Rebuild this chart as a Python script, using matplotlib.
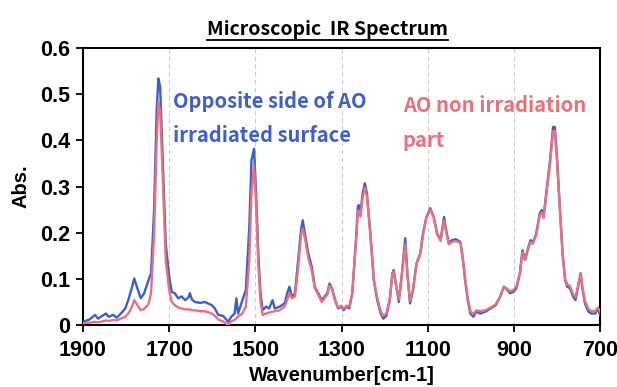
import matplotlib
matplotlib.use("Agg")
import matplotlib.pyplot as plt
from matplotlib.lines import Line2D

# wavenumber [cm-1] and absorbance
wavenumber = [
    1900, 1885, 1872, 1865, 1855, 1847, 1840, 1830, 1822, 1812, 1802, 1795, 1788, 1781,
    1775, 1766, 1758, 1748, 1742, 1735, 1729, 1725, 1721, 1715, 1708, 1700, 1694, 1687,
    1679, 1671, 1663, 1655, 1652, 1647, 1640, 1628, 1617, 1601, 1594, 1586, 1575, 1563,
    1556, 1548, 1544, 1540, 1530, 1522, 1514, 1509, 1503, 1498, 1493, 1488, 1483, 1475,
    1468, 1460, 1455, 1443, 1432, 1426, 1421, 1415, 1408, 1400, 1394, 1390, 1385, 1377,
    1369, 1362, 1354, 1346, 1340, 1333, 1328, 1322, 1315, 1308, 1300, 1295, 1288, 1282,
    1275, 1266, 1262, 1260, 1256, 1251, 1246, 1241, 1233, 1225, 1217, 1209, 1203, 1196,
    1188, 1182, 1179, 1174, 1167, 1160, 1152, 1147, 1141, 1134, 1126, 1117, 1111, 1103,
    1094, 1086, 1078, 1070, 1066, 1062, 1058, 1051, 1043, 1035, 1024, 1018, 1013, 1007,
    1001, 994, 987, 978, 966, 954, 942, 932, 923, 915, 909, 901, 894, 886,
    880, 874, 866, 861, 856, 848, 840, 835, 831, 825, 816, 809, 805, 800,
    793, 787, 781, 776, 770, 762, 757, 751, 745, 741, 735, 727, 720, 711,
    705, 700,
]

abs_opposite = [
    .007, .012, .022, .014, .020, .025, .018, .022, .016, .025, .036, .054, .076, .101,
    .083, .058, .069, .097, .112, .249, .465, .534, .516, .357, .177, .105, .072, .069,
    .058, .062, .054, .060, .069, .055, .050, .048, .050, .043, .036, .022, .020, .007,
    .018, .025, .058, .025, .054, .076, .213, .357, .382, .280, .150, .069, .032, .040,
    .036, .054, .036, .040, .047, .069, .083, .061, .069, .148, .206, .227, .198, .155,
    .126, .083, .069, .054, .061, .069, .090, .079, .054, .036, .040, .032, .040, .036,
    .069, .191, .256, .260, .242, .285, .307, .285, .198, .097, .054, .025, .014, .020,
    .054, .112, .119, .090, .050, .110, .188, .110, .047, .076, .133, .155, .198, .234,
    .253, .234, .198, .184, .210, .234, .210, .177, .184, .186, .180, .141, .097, .054,
    .025, .018, .029, .025, .029, .036, .043, .061, .083, .076, .069, .072, .080, .112,
    .162, .141, .170, .184, .178, .198, .242, .249, .234, .285, .357, .429, .429, .364,
    .249, .155, .097, .083, .080, .061, .054, .083, .112, .080, .047, .029, .025, .025,
    .036, .022,
]

abs_non_irradiated = [
    .004, .005, .007, .006, .008, .010, .009, .011, .010, .014, .018, .025, .036, .054,
    .045, .032, .035, .045, .069, .198, .393, .483, .465, .321, .141, .076, .050, .043,
    .038, .036, .034, .034, .034, .032, .032, .030, .030, .025, .020, .012, .008, .000,
    .008, .011, .015, .018, .025, .040, .141, .285, .346, .260, .130, .050, .022, .025,
    .027, .029, .030, .032, .040, .055, .069, .058, .062, .130, .195, .209, .188, .145,
    .118, .080, .066, .050, .058, .066, .086, .078, .055, .038, .042, .035, .042, .040,
    .070, .185, .245, .248, .235, .275, .298, .278, .195, .098, .058, .030, .020, .025,
    .056, .110, .116, .090, .055, .108, .175, .108, .052, .078, .132, .155, .196, .232,
    .250, .232, .196, .182, .205, .226, .205, .175, .180, .182, .178, .140, .098, .058,
    .030, .024, .032, .030, .032, .038, .045, .062, .083, .078, .073, .076, .084, .113,
    .158, .142, .168, .180, .176, .195, .238, .244, .232, .280, .350, .420, .420, .360,
    .248, .155, .100, .088, .085, .066, .060, .085, .112, .083, .052, .035, .030, .030,
    .038, .030,
]

x_ticks = [1900, 1700, 1500, 1300, 1100, 900, 700]
y_ticks = [0, 0.1, 0.2, 0.3, 0.4, 0.5, 0.6]
y_labels = ["0", "0.1", "0.2", "0.3", "0.4", "0.5", "0.6"]

BLUE = "#3f5fc8"
RED = "#e9707c"
tick_font = {"family": "Liberation Sans", "weight": "bold", "size": 15.5}
label_font = {"family": "Liberation Sans", "weight": "bold", "size": 14.5}
jp_font = ["Noto Sans CJK JP", "DejaVu Sans"]

fig = plt.figure(figsize=(6.17, 3.87), dpi=100)
ax = fig.add_axes([0.1345, 0.160, 0.838, 0.716])

ax.plot(wavenumber, abs_opposite, color=BLUE, lw=1.7, zorder=3)
ax.plot(wavenumber, abs_non_irradiated, color=RED, lw=1.7, zorder=4)

ax.set_xlim(1900, 700)
ax.set_ylim(0, 0.6)
ax.set_xticks(x_ticks)
ax.set_yticks(y_ticks)
ax.set_xticklabels([str(t) for t in x_ticks], fontdict=tick_font)
ax.set_yticklabels(y_labels, fontdict=tick_font)
ax.tick_params(direction="out", length=5, width=1.3, color="black")
ax.tick_params(axis="x", pad=6)
ax.tick_params(axis="y", pad=4)
for sp in ax.spines.values():
    sp.set_linewidth(1.5)
    sp.set_color("black")

for t in x_ticks[1:-1]:
    ax.axvline(t, color="#cccccc", lw=0.8, ls=(0, (4, 3)), zorder=1)

ax.set_xlabel("Wavenumber[cm-1]", fontdict=label_font, labelpad=3)
ax.set_ylabel("Abs.", fontdict=label_font, labelpad=7)

ax.text(1692, 0.448, "Opposite side of AO\nirradiated surface", color=BLUE,
        family=jp_font, weight="bold", fontsize=14.5, va="center", linespacing=1.75)
ax.text(1158, 0.437, "AO non irradiation\npart", color=RED,
        family=jp_font, weight="bold", fontsize=14.5, va="center", linespacing=1.8)

title = fig.text(0.53, 0.925, "Microscopic  IR Spectrum", ha="center", va="center",
                 family=jp_font, weight="bold", fontsize=14)

# underline the title
fig.canvas.draw()
bb = title.get_window_extent(renderer=fig.canvas.get_renderer())
W, H = fig.bbox.width, fig.bbox.height
y_ul = (bb.y0 - 1) / H
fig.add_artist(Line2D([bb.x0 / W, bb.x1 / W], [y_ul, y_ul], color="black", lw=1.3))

fig.savefig("out.png", dpi=100)
